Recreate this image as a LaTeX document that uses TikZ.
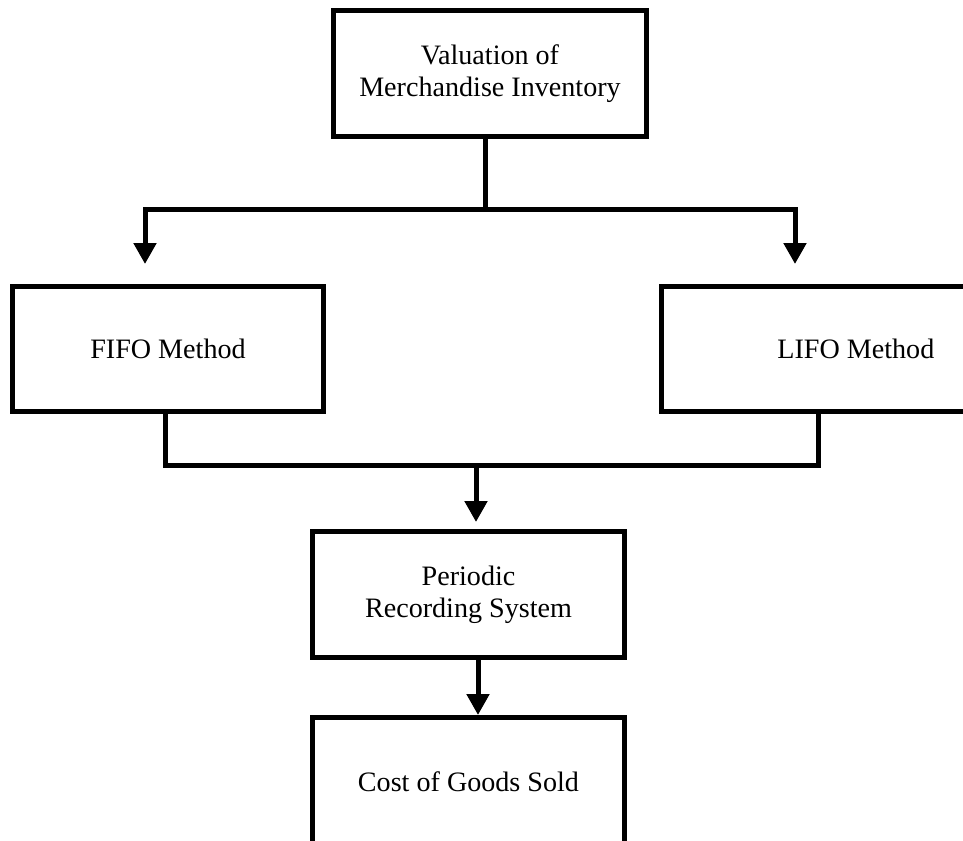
\documentclass[tikz,border=0pt]{standalone}
\usepackage{fontspec}
\setmainfont{Liberation Serif}
\usetikzlibrary{arrows.meta,positioning}

\begin{document}
\begin{tikzpicture}[x=0.02cm, y=-0.02cm]
    \tikzstyle{box}=[rectangle, draw=black, line width=0.1cm, align=center, font=\fontsize{16}{18.2}\selectfont]
    \tikzstyle{connect}=[-{Triangle[length=0.42cm, width=0.44cm]}, line width=0.1cm]
    \tikzstyle{line}=[line width=0.1cm]
    \useasboundingbox (0,0) rectangle (963,841);
    \clip (0,0) rectangle (963,841);
      \node[box, minimum width=6.28cm, minimum height=2.54cm] (valuation) at (490,73.5) {Valuation of\\Merchandise Inventory};
      \node[box, minimum width=6.24cm, minimum height=2.52cm] (fifo) at (168,349) {FIFO Method};
      \node[box, minimum width=7.76cm, minimum height=2.52cm] (lifo) [right=6.66cm of fifo] {LIFO Method};
      \node[box, minimum width=6.26cm, minimum height=2.54cm] (periodic) at (468.5,594.5) {Periodic\\Recording System};
      \node[box, minimum width=6.26cm, minimum height=2.54cm] (cost) [below=1.1cm of periodic] {Cost of Goods Sold};
      % split to the two methods
      \coordinate (split) at (485,210);
      \coordinate (fifoin) at (145,264);
      \coordinate (lifoin) at (795,264);
      \draw[line] (valuation.south -| split) -- (split);
      \draw[connect] (split) -| (fifoin);
      \draw[connect] (split) -| (lifoin);
      % join back into the recording system
      \coordinate (fifoout) at (165,465);
      \coordinate (lifoout) at (818,465);
      \coordinate (merge) at (476,465);
      \coordinate (periodicin) at (476,522);
      \coordinate (costin) at (478,715);
      \draw[line] (fifo.south -| fifoout) |- (lifoout) -- (lifo.south -| lifoout);
      \draw[connect] (merge) -- (periodicin);
      \draw[connect] (periodic.south -| costin) -- (costin);
\end{tikzpicture}
\end{document}
